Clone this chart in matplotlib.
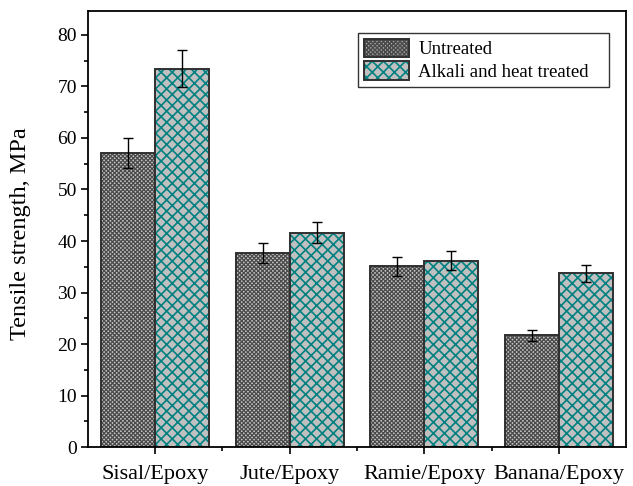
import numpy as np
import matplotlib
matplotlib.use("Agg")
import matplotlib.pyplot as plt
from matplotlib.ticker import MultipleLocator, FixedLocator

plt.rcParams['font.family'] = ['Liberation Serif', 'DejaVu Serif']

### data

composites = ['Sisal/Epoxy', 'Jute/Epoxy', 'Ramie/Epoxy', 'Banana/Epoxy']
untreated = [57.1, 37.7, 35.1, 21.7]
untreated_err = [2.9, 1.9, 1.8, 1.1]
treated = [73.4, 41.6, 36.2, 33.7]
treated_err = [3.6, 2.0, 1.8, 1.7]

### plot

fig = plt.figure(figsize=(6.33, 4.86), dpi=100)
ax = fig.add_axes([0.139, 0.080, 0.85, 0.898])

x = np.arange(1, len(composites) + 1)
w = 0.4

# hatch colour follows edgecolor, so draw the hatched fill and the outline separately
plt.rcParams['hatch.linewidth'] = 0.9
b1 = ax.bar(x - w / 2, untreated, w, color='#c4c4c4', edgecolor='#4a4a4a',
            hatch='xxxxxxxx', linewidth=0)
b1o = ax.bar(x - w / 2, untreated, w, fill=False, edgecolor='#303030', linewidth=1.4)
plt.rcParams['hatch.linewidth'] = 1.2
b2 = ax.bar(x + w / 2, treated, w, color='#c0c0c0', edgecolor='#008080',
            hatch='xxx', linewidth=0)
b2o = ax.bar(x + w / 2, treated, w, fill=False, edgecolor='#303030', linewidth=1.4)

ax.errorbar(x - w / 2, untreated, yerr=untreated_err, fmt='none', ecolor='black',
            elinewidth=1, capsize=3.3, capthick=1)
ax.errorbar(x + w / 2, treated, yerr=treated_err, fmt='none', ecolor='black',
            elinewidth=1, capsize=3.3, capthick=1)

ax.set_xlim(0.5, 4.5)
ax.set_ylim(0, 84.7)
ax.set_xticks(x)
ax.set_xticklabels(composites)
ax.xaxis.set_minor_locator(FixedLocator([1.5, 2.5, 3.5]))
ax.yaxis.set_major_locator(MultipleLocator(10))
ax.yaxis.set_minor_locator(MultipleLocator(5))
ax.tick_params(axis='both', which='major', direction='out', length=5, width=1.2)
ax.tick_params(axis='x', which='major', labelsize=16, pad=8)
ax.tick_params(axis='y', which='major', labelsize=14, pad=3)
ax.tick_params(axis='both', which='minor', direction='out', length=3, width=1.2)
for s in ax.spines.values():
    s.set_linewidth(1.3)

ax.set_ylabel('Tensile strength, MPa', fontsize=17.5)
ax.yaxis.set_label_coords(-0.105, 0.49)

leg = ax.legend([(b1[0], b1o[0]), (b2[0], b2o[0])],
                ['Untreated', 'Alkali and heat treated'],
                loc='upper left', bbox_to_anchor=(0.502, 0.5, 0.466, 0.449),
                mode='expand',
                prop={'size': 13.5}, frameon=True, fancybox=False, edgecolor='black',
                handlelength=2.4, handleheight=1.17, borderpad=0.3,
                labelspacing=0.16, handletextpad=0.5, borderaxespad=0)
leg.get_frame().set_linewidth(1.0)

plt.savefig('out.png', dpi=100)
